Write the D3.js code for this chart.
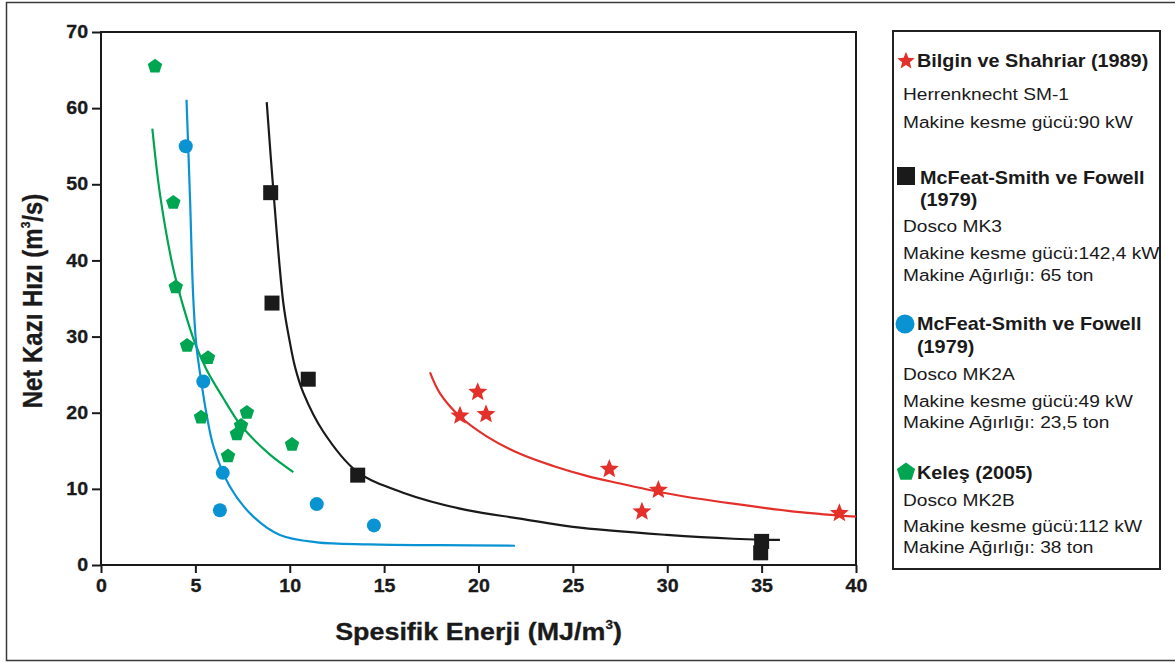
<!DOCTYPE html>
<html>
<head>
<meta charset="utf-8">
<script src="https://cdn.jsdelivr.net/npm/d3@7"></script>
<style>
  html, body { margin: 0; padding: 0; background: #fff; }
  svg { display: block; }
  text { font-family: "Liberation Sans", Arial, Helvetica, sans-serif; }
</style>
</head>
<body>
<svg id="chart" width="1175" height="662"></svg>
<script>
// ---- Axis ticks ----
const xTicks = [0, 5, 10, 15, 20, 25, 30, 35, 40];
const yTicks = [0, 10, 20, 30, 40, 50, 60, 70];

// ---- Measured points: [specific energy MJ/m3, net cutting rate m3/s] ----
const bilginPoints = [[19.02, 19.6], [19.96, 22.7], [20.4, 19.8], [26.93, 12.6], [29.53, 9.85], [28.66, 7.0], [39.12, 6.8]];
const mk3Points = [[8.99, 48.9], [9.06, 34.4], [10.98, 24.4], [13.6, 11.8], [35.0, 3.1], [34.95, 1.6]];
const mk2aPoints = [[4.49, 55.0], [5.42, 24.1], [6.45, 12.1], [6.3, 7.2], [11.43, 8.0], [14.46, 5.2]];
const kelesPoints = [[2.86, 65.5], [3.83, 47.6], [3.96, 36.5], [4.56, 28.8], [5.67, 27.2], [5.30, 19.4],
                     [7.73, 20.0], [7.42, 18.3], [7.2, 17.2], [6.73, 14.3], [10.12, 15.8]];

// ---- Trend curves ----
const bilginCurve = [[17.43, 25.3], [17.96, 22.55], [19.02, 19.5], [20.43, 16.9], [22.2, 14.6], [23.96, 13.0],
                     [25.73, 11.7], [27.5, 10.7], [29.26, 9.75], [30.68, 9.1], [33.5, 8.05], [37.03, 6.95], [40, 6.35]];
const mk3Curve = [[8.78, 60.8], [9.13, 49.25], [9.66, 34.4], [9.98, 29.6], [10.28, 26.0], [10.72, 22.6],
                  [11.78, 17.5], [13.55, 12.3], [16.0, 9.5], [19.4, 7.2], [22.2, 6.1], [25.0, 5.0],
                  [29.97, 3.95], [33.5, 3.45], [35.97, 3.3]];
const mk2aCurve = [[4.53, 61.1], [4.72, 47.9], [4.88, 35.5], [5.05, 28.9], [5.3, 24.3], [5.62, 19.4],
                   [5.98, 15.4], [6.83, 10.3], [8.07, 6.35], [9.48, 3.94], [11.43, 2.98], [14.25, 2.72],
                   [18, 2.6], [21.93, 2.53]];
const kelesCurve = [[2.72, 57.3], [3.13, 48.6], [3.83, 38.9], [4.4, 33.6], [5.0, 29.0], [5.6, 25.6],
                    [6.48, 21.9], [7.3, 18.7], [7.89, 17.0], [8.95, 14.5], [10.19, 12.2]];

// ---- Legend texts ----
const legendTitles = [
  ["Bilgin ve Shahriar (1989)"],
  ["McFeat-Smith ve Fowell", "(1979)"],
  ["McFeat-Smith ve Fowell", "(1979)"],
  ["Keleş (2005)"]
];
const legendLines = [
  ["Herrenknecht SM-1", "Makine kesme gücü:90 kW"],
  ["Dosco MK3", "Makine kesme gücü:142,4 kW", "Makine Ağırlığı: 65 ton"],
  ["Dosco MK2A", "Makine kesme gücü:49 kW", "Makine Ağırlığı: 23,5 ton"],
  ["Dosco MK2B", "Makine kesme gücü:112 kW", "Makine Ağırlığı: 38 ton"]
];

// ---- Styling ----
const RED = "#e3302a", BLACK = "#1a1a1a", BLUE = "#0a93d3", GREEN = "#00a551";
const STRETCH = 1.12; // horizontal widening of all lettering

// Custom symbol types (size = radius squared)
const pentagon = {
  draw(ctx, size) {
    const r = Math.sqrt(size);
    for (let i = 0; i < 5; i++) {
      const a = -Math.PI / 2 + i * 2 * Math.PI / 5;
      const px = r * Math.cos(a), py = r * Math.sin(a);
      if (i === 0) ctx.moveTo(px, py); else ctx.lineTo(px, py);
    }
    ctx.closePath();
  }
};
const star = {
  draw(ctx, size) {
    const r = Math.sqrt(size), ri = r * 0.44;
    for (let i = 0; i < 10; i++) {
      const a = -Math.PI / 2 + i * Math.PI / 5;
      const rr = i % 2 === 0 ? r : ri;
      const px = rr * Math.cos(a), py = rr * Math.sin(a);
      if (i === 0) ctx.moveTo(px, py); else ctx.lineTo(px, py);
    }
    ctx.closePath();
  }
};

const svg = d3.select("#chart");

// Outer frame
svg.append("rect")
  .attr("x", 6.5).attr("y", 2.5).attr("width", 1180).attr("height", 658)
  .attr("fill", "none").attr("stroke", "#3a3a3a").attr("stroke-width", 1.5);

const x = d3.scaleLinear().domain([0, 40]).range([101, 856]);
const y = d3.scaleLinear().domain([0, 70]).range([565, 32]);

// Axes
const yAxis = svg.append("g").attr("transform", `translate(${x(0)},0)`)
  .call(d3.axisLeft(y).tickValues(yTicks).tickSize(9).tickPadding(2.5).tickFormat(d3.format("d")));
const xAxis = svg.append("g").attr("transform", `translate(0,${y(0)})`)
  .call(d3.axisBottom(x).tickValues(xTicks).tickSize(8).tickPadding(6.5).tickFormat(d3.format("d")));
[xAxis, yAxis].forEach(g => {
  g.select(".domain").remove();
  g.selectAll(".tick line").attr("stroke", BLACK).attr("stroke-width", 2);
  g.selectAll(".tick text")
    .attr("fill", BLACK).attr("font-size", 17.5).attr("font-weight", "bold")
    .attr("stroke", BLACK).attr("stroke-width", 0.3)
    .attr("font-family", '"Liberation Sans", Arial, sans-serif')
    .attr("transform", `scale(${STRETCH},1)`);
});

// Plot frame
svg.append("rect")
  .attr("x", x(0)).attr("y", y(70)).attr("width", x(40) - x(0)).attr("height", y(0) - y(70))
  .attr("fill", "none").attr("stroke", BLACK).attr("stroke-width", 2);

// Axis titles
const xTitle = svg.append("text")
  .attr("transform", `translate(${(x(0) + x(40)) / 2},640) scale(${STRETCH},1)`)
  .attr("text-anchor", "middle").attr("font-size", 24).attr("font-weight", "bold").attr("fill", BLACK)
  .attr("stroke", BLACK).attr("stroke-width", 0.3);
xTitle.append("tspan").text("Spesifik Enerji (MJ/m");
xTitle.append("tspan").attr("font-size", 12).attr("dy", -11).text("3");
xTitle.append("tspan").attr("dy", 11).text(")");

const yTitle = svg.append("text")
  .attr("transform", `translate(42,301) scale(${STRETCH},1) rotate(-90)`)
  .attr("text-anchor", "middle").attr("font-size", 24).attr("font-weight", "bold").attr("fill", BLACK)
  .attr("stroke", BLACK).attr("stroke-width", 0.3);
yTitle.append("tspan").text("Net Kazı Hızı (m");
yTitle.append("tspan").attr("font-size", 12).attr("dy", -11).text("3");
yTitle.append("tspan").attr("dy", 11).text("/s)");

// Trend curves
const line = d3.line().x(d => x(d[0])).y(d => y(d[1])).curve(d3.curveCatmullRom.alpha(0.5));
const curves = [[kelesCurve, GREEN], [mk2aCurve, BLUE], [mk3Curve, BLACK], [bilginCurve, RED]];
curves.forEach(([data, color]) => {
  svg.append("path").datum(data).attr("d", line)
    .attr("fill", "none").attr("stroke", color).attr("stroke-width", 2.2);
});

// Point markers
const series = [
  { data: kelesPoints, type: pentagon, size: 7.6 * 7.6, color: GREEN },
  { data: mk2aPoints, type: d3.symbolCircle, size: Math.PI * 7 * 7, color: BLUE },
  { data: mk3Points, type: d3.symbolSquare, size: 15 * 15, color: BLACK },
  { data: bilginPoints, type: star, size: 10 * 10, color: RED }
];
series.forEach(s => {
  const sym = d3.symbol().type(s.type).size(s.size);
  svg.append("g").selectAll("path").data(s.data).join("path")
    .attr("transform", d => `translate(${x(d[0])},${y(d[1])})`)
    .attr("d", sym).attr("fill", s.color);
});

// Legend
svg.append("rect")
  .attr("x", 893).attr("y", 31).attr("width", 267).attr("height", 538)
  .attr("fill", "#fff").attr("stroke", "#222").attr("stroke-width", 2);

const legendMarkers = [
  { type: star, size: 9.2 * 9.2, color: RED, cx: 906, cy: 61 },
  { type: d3.symbolSquare, size: 18 * 18, color: BLACK, cx: 906, cy: 176 },
  { type: d3.symbolCircle, size: Math.PI * 9.5 * 9.5, color: BLUE, cx: 905, cy: 324 },
  { type: pentagon, size: 9.6 * 9.6, color: GREEN, cx: 906, cy: 472 }
];
const titleX = [917, 920, 917, 917];
const titleY = [[67], [184, 206], [330, 353], [479]];
const lineX = 903;
const lineY = [[100, 128], [232, 259, 281], [380, 407, 428], [506, 532, 553]];

legendMarkers.forEach((m, i) => {
  svg.append("path")
    .attr("transform", `translate(${m.cx},${m.cy})`)
    .attr("d", d3.symbol().type(m.type).size(m.size)()).attr("fill", m.color);
  legendTitles[i].forEach((t, j) => {
    svg.append("text")
      .attr("transform", `translate(${titleX[i]},${titleY[i][j]}) scale(${STRETCH},1)`)
      .attr("font-size", 17.7).attr("font-weight", "bold").attr("fill", BLACK).text(t);
  });
  legendLines[i].forEach((t, j) => {
    svg.append("text")
      .attr("transform", `translate(${lineX},${lineY[i][j]}) scale(${STRETCH},1)`)
      .attr("font-size", 17.1).attr("fill", BLACK).text(t);
  });
});
</script>
</body>
</html>
